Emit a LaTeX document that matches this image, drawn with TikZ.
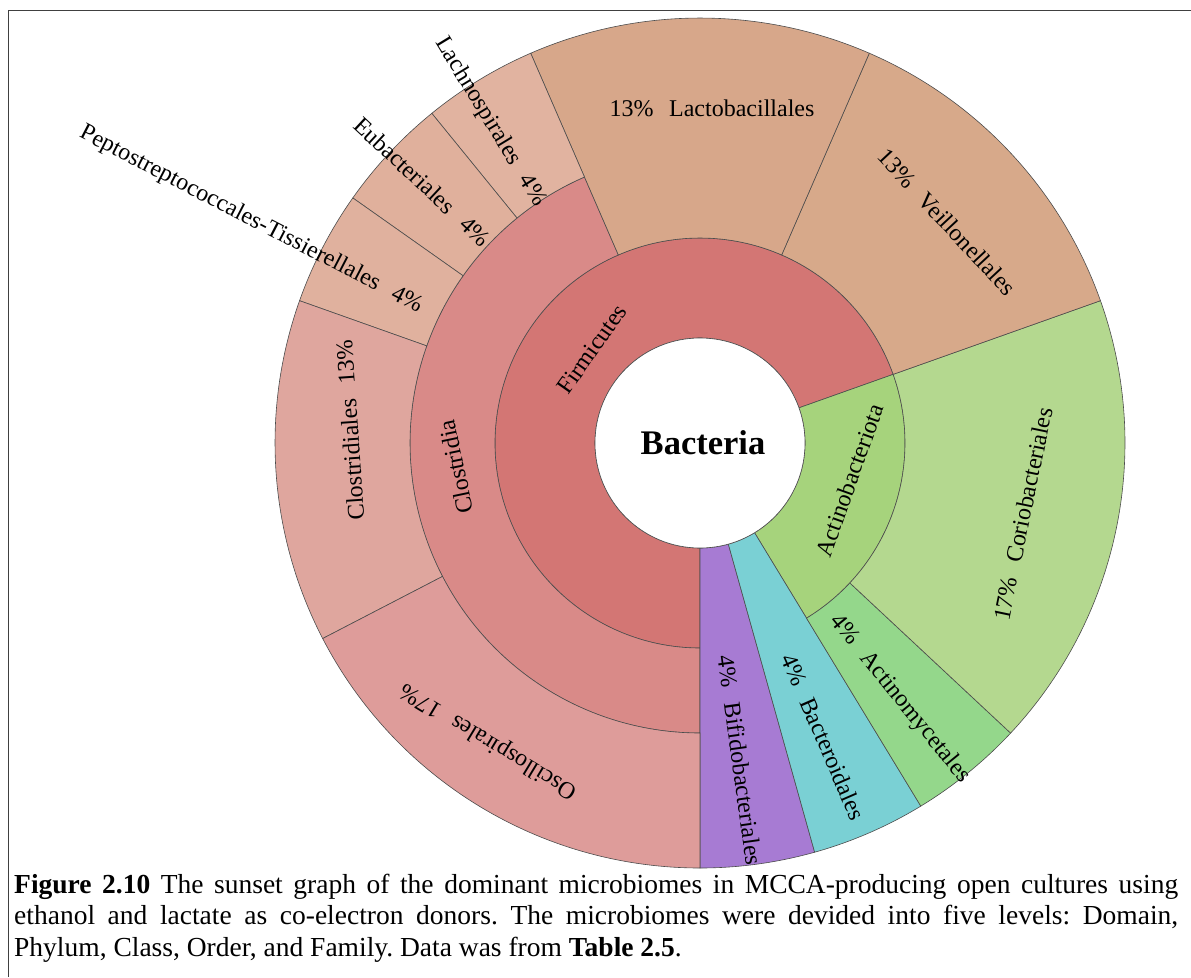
\documentclass[tikz,border=0pt]{standalone}
\usepackage{fontspec}
\setmainfont{Liberation Serif}
\frenchspacing
\newcommand\gp{\hspace{0.65em}}
% filled ring segment: colour, start angle, end angle, inner radius, outer radius
\newcommand\wedgeseg[5]{\filldraw[wedge, fill=#1] (#2:#4) arc[start angle=#2, end angle=#3, radius=#4] -- (#3:#5) arc[start angle=#3, end angle=#2, radius=#5] -- cycle;}
\definecolor{cFirm}{HTML}{D37674}
\definecolor{cClostridia}{HTML}{D98A88}
\definecolor{cOscillo}{HTML}{DE9C9A}
\definecolor{cClostridiales}{HTML}{DFA69E}
\definecolor{cPepto}{HTML}{E0B19E}
\definecolor{cEubac}{HTML}{E0B09C}
\definecolor{cLachno}{HTML}{E1B3A0}
\definecolor{cLacto}{HTML}{D7A78A}
\definecolor{cVeillo}{HTML}{D7A98A}
\definecolor{cActino}{HTML}{A6D37C}
\definecolor{cCorio}{HTML}{B4D88F}
\definecolor{cActinomyc}{HTML}{94D78B}
\definecolor{cBactero}{HTML}{7AD0D4}
\definecolor{cBifido}{HTML}{A77BD3}
\begin{document}
\begin{tikzpicture}[x=1pt,y=1pt,
  wedge/.style={draw=black!70, line width=0.6pt},
  lbl/.style={font=\fontsize{24}{28}\selectfont, inner sep=0pt},
  capline/.style={anchor=base west, inner sep=0pt, font=\fontsize{27.5}{31.5}\selectfont}]
\useasboundingbox (0,0) rectangle (1191,-977);
% frame
\draw[line width=1.5pt, black!75] (8.5,-977) -- (8.5,-10.5) -- (1191,-10.5);

\begin{scope}[shift={(700,-443)}]
% phylum ring
\wedgeseg{cFirm}{19.565}{270}{105}{205}
\wedgeseg{cActino}{-58.696}{19.565}{105}{205}
% class ring
\wedgeseg{cClostridia}{113.478}{270}{205}{290}
% orders
\wedgeseg{cBifido}{-90}{-74.348}{105}{425}
\wedgeseg{cBactero}{-74.348}{-58.696}{105}{425}
\wedgeseg{cActinomyc}{-58.696}{-43.043}{205}{425}
\wedgeseg{cCorio}{-43.043}{19.565}{205}{425}
\wedgeseg{cVeillo}{19.565}{66.522}{205}{425}
\wedgeseg{cLacto}{66.522}{113.478}{205}{425}
\wedgeseg{cLachno}{113.478}{129.130}{290}{425}
\wedgeseg{cEubac}{129.130}{144.783}{290}{425}
\wedgeseg{cPepto}{144.783}{160.435}{290}{425}
\wedgeseg{cClostridiales}{160.435}{207.391}{290}{425}
\wedgeseg{cOscillo}{207.391}{270}{290}{425}
% domain
\filldraw[wedge, fill=white] (0,0) circle[radius=105];
\node[inner sep=0pt, font=\fontsize{34.5}{40}\selectfont\bfseries] (bacteria) at (3,0) {Bacteria};

% labels
\node[lbl, rotate=54.8] (firmicutes) at (-108,94) {Firmicutes};
\node[lbl, rotate=70.4] (actinobacteriota) at (149.5,-37.5) {Actinobacteriota};
\node[lbl, rotate=101.7] (clostridia) at (-244,-24) {Clostridia};
\node[lbl] (lacto) at (12,335) {13\%\gp Lactobacillales};
\node[lbl, rotate=-47] (veillo) at (247,221) {13\%\gp Veillonellales};
\node[lbl, rotate=78.3] (corio) at (323,-71) {17\%\gp Coriobacteriales};
\node[lbl, rotate=-50.9] (actinomyc) at (200,-256) {4\%\gp Actinomycetales};
\node[lbl, rotate=-66.5] (bactero) at (123.5,-294) {4\%\gp Bacteroidales};
\node[lbl, rotate=-82.2] (bifido) at (40,-317) {4\%\gp Bifidobacteriales};
\node[lbl, rotate=148.7] (oscillo) at (-211,-298) {Oscillospirales\gp 17\%};
\node[lbl, rotate=93.9] (clostridiales) at (-350,13) {Clostridiales\gp 13\%};
\node[lbl, rotate=-58.7] (lachno) at (-209.7,321.3) {Lachnospirales\gp 4\%};
\node[lbl, rotate=-43] (eubac) at (-277.7,261.4) {Eubacteriales\gp 4\%};
\node[lbl, rotate=-27.4] (pepto) at (-449,223.2) {Peptostreptococcales-Tissierellales\gp 4\%};
\end{scope}

% caption
\node[capline] (cap1) at (14,-893) {\makebox[1164pt][s]{\textbf{Figure 2.10} The sunset graph of the dominant microbiomes in MCCA-producing open cultures using}};
\node[capline] (cap2) at (14,-924.5) {\makebox[1164pt][s]{ethanol and lactate as co-electron donors. The microbiomes were devided into five levels: Domain,}};
\node[capline] (cap3) at (14,-956) {Phylum, Class, Order, and Family. Data was from \textbf{Table 2.5}.};
\end{tikzpicture}
\end{document}
